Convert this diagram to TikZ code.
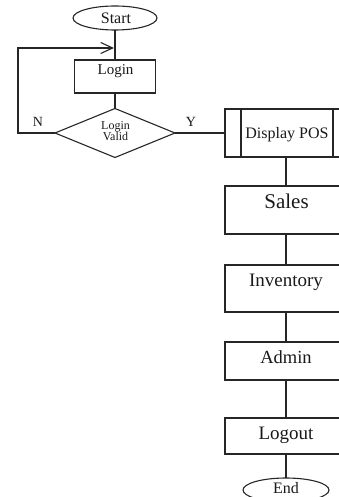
\documentclass[tikz,border=0pt]{standalone}
\usepackage{fontspec}
\setmainfont{Liberation Serif}
\usetikzlibrary{shapes.geometric,arrows.meta,calc}
\newcommand\myfs[1]{\fontsize{#1}{#1}\selectfont}
\begin{document}
\begin{tikzpicture}[x=1pt,y=-1pt,
  line width=1.1pt, draw=black!85,
  every node/.style={inner sep=0pt, outer sep=0pt},
  term/.style={ellipse, draw, minimum width=84pt, minimum height=24pt},
  box/.style={rectangle, draw, minimum width=122pt},
  dec/.style={diamond, draw, minimum width=120pt, minimum height=49pt},
  pred/.style={rectangle, draw, minimum width=122pt, path picture={
     \draw ([xshift=16pt]path picture bounding box.north west) -- ([xshift=16pt]path picture bounding box.south west);
     \draw ([xshift=-14pt]path picture bounding box.north east) -- ([xshift=-14pt]path picture bounding box.south east);}},
  txt/.style={anchor=base, text=black!90},
  conn/.style={draw=black!85, line width=1.1pt}
]
\useasboundingbox (0,0) rectangle (339,497);
\clip (0,0) rectangle (339,497);

% shapes
\node[term] (start) at (115,18) {};
\node[box, minimum width=81pt, minimum height=33pt] (login) at (115,76.5) {};
\node[dec] (valid) at (115,133) {};
\node[pred, minimum height=48pt] (disp) at (286,133) {};
\node[box, minimum height=48pt] (sales) at (286,210) {};
\node[box, minimum height=47pt] (inv) at (286,288.5) {};
\node[box, minimum height=38pt] (admin) at (286,361) {};
\node[box, minimum height=36pt] (logout) at (286,436) {};
\node[term, minimum width=86pt] (end) at (286,490) {};

% texts
\node[txt] (startT) at (116,24) {\myfs{16}Start};
\node[txt] (loginT) at (115.5,75) {\myfs{15}Login};
\node[text=black!90, align=center, font={\fontsize{12}{11.5}\selectfont}, anchor=center] (validT) at (115.5,131) {Login\\Valid};
\node[txt] (dispT) at (287,139) {\myfs{16}Display POS};
\node[txt] (salesT) at (286.5,208) {\myfs{21}Sales};
\node[txt] (invT) at (286,286) {\myfs{19}Inventory};
\node[txt] (adminT) at (286,363) {\myfs{18.5}Admin};
\node[txt] (logoutT) at (286,439) {\myfs{19}Logout};
\node[txt] (endT) at (286,493) {\myfs{16}End};
\node[txt] (nT) at (38,127) {\myfs{14}N};
\node[txt] (yT) at (191,127) {\myfs{14}Y};

% loop coordinates
\coordinate (lpA) at (18,133);
\coordinate (lpB) at (18,48);
\coordinate (lpEnd) at (114,48);

% connectors
\draw[conn] (start) -- (login);
\draw[conn] (login) -- (valid);
\draw[conn, -{Straight Barb[length=12pt,width=11pt,line width=1.1pt]}] (valid.west) -- (lpA) -- (lpB) -- (lpEnd);
\draw[conn] (valid.east) -- (disp.west);
\draw[conn] (disp) -- (sales);
\draw[conn] (sales) -- (inv);
\draw[conn] (inv) -- (admin);
\draw[conn] (admin) -- (logout);
\draw[conn] (logout) -- (end);
\end{tikzpicture}
\end{document}
